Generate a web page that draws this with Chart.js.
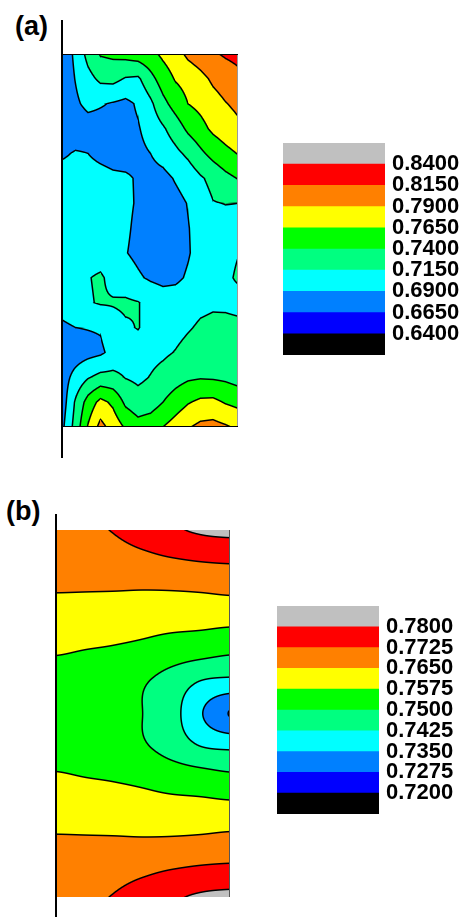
<!DOCTYPE html>
<html>
<head>
<meta charset="utf-8">
<script src="https://cdn.jsdelivr.net/npm/chart.js@4.4.1/dist/chart.umd.min.js"></script>
<style>
  html, body { margin: 0; padding: 0; background: #fff; }
  body { width: 460px; height: 917px; overflow: hidden; position: relative;
         font-family: "Liberation Sans", Arial, sans-serif; }
  .panel-label { position: absolute; font-weight: bold; font-size: 27px; line-height: 27px; color: #000; }
  .axis-line { position: absolute; background: #000; width: 2px; }
  canvas { position: absolute; }
</style>
</head>
<body>
<div class="panel-label" style="left:15px; top:13px;">(a)</div>
<div class="axis-line" style="left:61px; top:20px; height:438px;"></div>
<canvas id="mapA" width="175" height="373" style="left:63px; top:54px;"></canvas>
<canvas id="keyA" width="190" height="212" style="left:283px; top:143px;"></canvas>

<div class="panel-label" style="left:6px; top:498px;">(b)</div>
<div class="axis-line" style="left:55px; top:514px; height:403px;"></div>
<canvas id="mapB" width="173" height="367" style="left:57px; top:530px;"></canvas>
<canvas id="keyB" width="190" height="208" style="left:277px; top:606px;"></canvas>

<script>
// Colour bands, lowest to highest
const bandColors = ['#000000', '#0000FF', '#0080FF', '#00FFFF', '#00FF80',
                    '#00FF00', '#FFFF00', '#FF8000', '#FF0000', '#C0C0C0'];

// Contour levels (band boundaries) of each map
const levelsA = [0.6400, 0.6650, 0.6900, 0.7150, 0.7400, 0.7650, 0.7900, 0.8150, 0.8400];
const levelsB = [0.7200, 0.7275, 0.7350, 0.7425, 0.7500, 0.7575, 0.7650, 0.7725, 0.7800];

// Map (a): nodal values, rows top to bottom, columns left to right
const fieldA = [
  [0.675, 0.695, 0.723, 0.742, 0.745, 0.748, 0.752, 0.758, 0.770, 0.780, 0.795, 0.803, 0.812, 0.818, 0.822],
  [0.675, 0.691, 0.707, 0.720, 0.722, 0.713, 0.711, 0.732, 0.752, 0.767, 0.774, 0.783, 0.794, 0.801, 0.808],
  [0.677, 0.686, 0.696, 0.692, 0.688, 0.684, 0.693, 0.710, 0.733, 0.750, 0.765, 0.772, 0.781, 0.789, 0.795],
  [0.675, 0.676, 0.679, 0.680, 0.681, 0.683, 0.688, 0.700, 0.712, 0.727, 0.745, 0.757, 0.770, 0.778, 0.785],
  [0.687, 0.692, 0.690, 0.685, 0.682, 0.681, 0.684, 0.690, 0.699, 0.709, 0.720, 0.735, 0.748, 0.758, 0.766],
  [0.700, 0.700, 0.698, 0.697, 0.694, 0.693, 0.688, 0.682, 0.683, 0.692, 0.700, 0.712, 0.722, 0.733, 0.741],
  [0.702, 0.703, 0.702, 0.700, 0.698, 0.694, 0.688, 0.681, 0.679, 0.683, 0.691, 0.703, 0.714, 0.7155, 0.715],
  [0.703, 0.704, 0.703, 0.701, 0.698, 0.693, 0.686, 0.679, 0.677, 0.680, 0.689, 0.698, 0.704, 0.708, 0.710],
  [0.703, 0.705, 0.706, 0.705, 0.700, 0.691, 0.685, 0.678, 0.676, 0.679, 0.688, 0.699, 0.706, 0.711, 0.7145],
  [0.703, 0.706, 0.714, 0.718, 0.708, 0.700, 0.693, 0.687, 0.683, 0.685, 0.693, 0.701, 0.707, 0.712, 0.717],
  [0.700, 0.705, 0.713, 0.717, 0.717, 0.719, 0.716, 0.708, 0.703, 0.703, 0.706, 0.710, 0.712, 0.711, 0.709],
  [0.686, 0.690, 0.691, 0.692, 0.705, 0.712, 0.716, 0.708, 0.706, 0.708, 0.713, 0.718, 0.720, 0.721, 0.720],
  [0.676, 0.678, 0.682, 0.686, 0.697, 0.702, 0.705, 0.708, 0.711, 0.716, 0.722, 0.727, 0.730, 0.731, 0.732],
  [0.680, 0.698, 0.713, 0.722, 0.722, 0.714, 0.710, 0.716, 0.723, 0.730, 0.736, 0.738, 0.737, 0.735, 0.730],
  [0.680, 0.718, 0.750, 0.772, 0.760, 0.735, 0.725, 0.728, 0.740, 0.752, 0.763, 0.770, 0.771, 0.763, 0.758],
  [0.687, 0.725, 0.767, 0.798, 0.780, 0.762, 0.750, 0.755, 0.765, 0.776, 0.788, 0.796, 0.798, 0.793, 0.786]
];

// Map (b): nodal values, rows top to bottom, columns left to right
const fieldB = [
  [0.7710, 0.7718, 0.7728, 0.7755, 0.7790, 0.7808, 0.7815],
  [0.7685, 0.7690, 0.7695, 0.7705, 0.7718, 0.7728, 0.7733],
  [0.7652, 0.7651, 0.7650, 0.7648, 0.7649, 0.7653, 0.7660],
  [0.7612, 0.7610, 0.7605, 0.7600, 0.7596, 0.7593, 0.7588],
  [0.7578, 0.7572, 0.7566, 0.7555, 0.7535, 0.7522, 0.7508],
  [0.7552, 0.7545, 0.7530, 0.7505, 0.7465, 0.7418, 0.7403],
  [0.7543, 0.7535, 0.7518, 0.7499, 0.7450, 0.7355, 0.7272],
  [0.7552, 0.7545, 0.7530, 0.7505, 0.7465, 0.7418, 0.7403],
  [0.7578, 0.7572, 0.7566, 0.7555, 0.7535, 0.7522, 0.7508],
  [0.7612, 0.7610, 0.7605, 0.7600, 0.7596, 0.7593, 0.7588],
  [0.7652, 0.7651, 0.7650, 0.7648, 0.7649, 0.7653, 0.7660],
  [0.7685, 0.7690, 0.7695, 0.7705, 0.7718, 0.7728, 0.7733],
  [0.7710, 0.7718, 0.7728, 0.7755, 0.7790, 0.7808, 0.7815]
];

function hexToRgb(hex) {
  const n = parseInt(hex.slice(1), 16);
  return [(n >> 16) & 255, (n >> 8) & 255, n & 255];
}
const bandRgb = bandColors.map(hexToRgb);

// grid nodes as scatter points {x: column, y: row, v: value}
function gridPoints(field) {
  const out = [];
  field.forEach((row, j) => row.forEach((v, i) => out.push({ x: i, y: j, v: v })));
  return out;
}

// Catmull-Rom weights for smooth interpolation
function catmull(p0, p1, p2, p3, t) {
  return p1 + 0.5 * t * (p2 - p0 + t * (2 * p0 - 5 * p1 + 4 * p2 - p3 + t * (3 * (p1 - p2) + p3 - p0)));
}

// Filled contour bands with black isolines, evaluated per pixel through the chart scales
const contourFill = {
  id: 'contourFill',
  beforeDatasetsDraw(chart, args, opts) {
    const xs = chart.scales.x, ys = chart.scales.y;
    const pts = chart.data.datasets[0].data;
    const nx = Math.round(xs.max) + 1, ny = Math.round(ys.max) + 1;
    const g = [];
    for (let j = 0; j < ny; j++) g.push(new Array(nx).fill(0));
    pts.forEach(p => { g[p.y][p.x] = p.v; });
    const at = (j, i) => g[Math.min(Math.max(j, 0), ny - 1)][Math.min(Math.max(i, 0), nx - 1)];

    const linear = (xv, yv) => {
      xv = Math.min(Math.max(xv, 0), nx - 1);
      yv = Math.min(Math.max(yv, 0), ny - 1);
      const i = Math.min(Math.floor(xv), nx - 2), j = Math.min(Math.floor(yv), ny - 2);
      const tx = xv - i, ty = yv - j;
      return g[j][i] * (1 - tx) * (1 - ty) + g[j][i + 1] * tx * (1 - ty) +
             g[j + 1][i] * (1 - tx) * ty + g[j + 1][i + 1] * tx * ty;
    };
    const smooth = (xv, yv) => {
      xv = Math.min(Math.max(xv, 0), nx - 1);
      yv = Math.min(Math.max(yv, 0), ny - 1);
      const i = Math.min(Math.floor(xv), nx - 2), j = Math.min(Math.floor(yv), ny - 2);
      const tx = xv - i, ty = yv - j;
      const r = [];
      for (let m = -1; m <= 2; m++) {
        r.push(catmull(at(j + m, i - 1), at(j + m, i), at(j + m, i + 1), at(j + m, i + 2), tx));
      }
      return catmull(r[0], r[1], r[2], r[3], ty);
    };
    const f = opts.smooth ? smooth : linear;

    const levels = opts.levels;
    const area = chart.chartArea;
    const w = Math.round(area.right - area.left), h = Math.round(area.bottom - area.top);
    const xc = [], xl = [], xr = [], yc = [], yt = [], yb = [];
    for (let px = 0; px < w; px++) {
      xc.push(xs.getValueForPixel(area.left + px + 0.5));
      xl.push(xs.getValueForPixel(area.left + px));
      xr.push(xs.getValueForPixel(area.left + px + 1));
    }
    for (let py = 0; py < h; py++) {
      yc.push(ys.getValueForPixel(area.top + py + 0.5));
      yt.push(ys.getValueForPixel(area.top + py));
      yb.push(ys.getValueForPixel(area.top + py + 1));
    }
    const img = chart.ctx.createImageData(w, h);
    const d = img.data;
    const lw = opts.lineWidth || 1.4;
    for (let py = 0; py < h; py++) {
      for (let px = 0; px < w; px++) {
        const v = f(xc[px], yc[py]);
        let k = 0;
        while (k < levels.length && v >= levels[k]) k++;
        const gx = f(xr[px], yc[py]) - f(xl[px], yc[py]);
        const gy = f(xc[px], yb[py]) - f(xc[px], yt[py]);
        const grad = Math.hypot(gx, gy);
        let dist = Infinity;
        if (grad > 1e-9) {
          if (k > 0) dist = Math.min(dist, Math.abs(v - levels[k - 1]) / grad);
          if (k < levels.length) dist = Math.min(dist, Math.abs(levels[k] - v) / grad);
        }
        const a = Math.min(Math.max(lw / 2 + 0.5 - dist, 0), 1);
        const c = bandRgb[k];
        const o = (py * w + px) * 4;
        d[o] = c[0] * (1 - a);
        d[o + 1] = c[1] * (1 - a);
        d[o + 2] = c[2] * (1 - a);
        d[o + 3] = 255;
      }
    }
    chart.ctx.putImageData(img, Math.round(area.left), Math.round(area.top));
  }
};

// Frame lines along the map edges
const mapFrame = {
  id: 'mapFrame',
  afterDatasetsDraw(chart, args, opts) {
    const { left, right, top, bottom } = chart.chartArea;
    const ctx = chart.ctx;
    ctx.save();
    ctx.lineWidth = 1;
    if (opts.right) {
      ctx.strokeStyle = opts.right;
      ctx.beginPath(); ctx.moveTo(right - 0.5, top); ctx.lineTo(right - 0.5, bottom); ctx.stroke();
    }
    if (opts.top) {
      ctx.strokeStyle = opts.top;
      ctx.beginPath(); ctx.moveTo(left, top + 0.5); ctx.lineTo(right, top + 0.5); ctx.stroke();
    }
    if (opts.bottom) {
      ctx.strokeStyle = opts.bottom;
      ctx.beginPath(); ctx.moveTo(left, bottom - 0.5); ctx.lineTo(right, bottom - 0.5); ctx.stroke();
    }
    ctx.restore();
  }
};

function mapChart(id, field, levels, smooth, frame) {
  return new Chart(document.getElementById(id), {
    type: 'scatter',
    data: { datasets: [{ data: gridPoints(field), pointRadius: 0, pointHoverRadius: 0 }] },
    options: {
      responsive: false, devicePixelRatio: 1, animation: false, events: [],
      layout: { padding: 0 },
      plugins: {
        legend: { display: false }, tooltip: { enabled: false },
        contourFill: { levels: levels, smooth: smooth, lineWidth: 1.5 },
        mapFrame: frame
      },
      scales: {
        x: { type: 'linear', min: 0, max: field[0].length - 1, display: false },
        y: { type: 'linear', min: 0, max: field.length - 1, reverse: true, display: false }
      }
    },
    plugins: [contourFill, mapFrame]
  });
}

// Colour key: one stacked bar of ten bands, level values at the band boundaries
function keyChart(id, levels) {
  return new Chart(document.getElementById(id), {
    type: 'bar',
    data: {
      labels: [''],
      datasets: bandColors.map(c => ({
        data: [1], backgroundColor: c, borderWidth: 0,
        barPercentage: 1, categoryPercentage: 1
      }))
    },
    options: {
      responsive: false, devicePixelRatio: 1, animation: false, events: [],
      layout: { padding: 0 },
      plugins: { legend: { display: false }, tooltip: { enabled: false } },
      scales: {
        x: { stacked: true, display: false },
        y: {
          stacked: true, position: 'right', min: 0, max: bandColors.length,
          grid: { display: false, drawTicks: false },
          border: { display: false },
          afterFit(scale) { scale.width = 88; scale.paddingTop = 0; scale.paddingBottom = 0; },
          ticks: {
            stepSize: 1, autoSkip: false, padding: 7, color: '#000',
            font: { family: 'Liberation Sans', weight: 'bold', size: 22 },
            callback: v => (v >= 1 && v <= levels.length) ? levels[v - 1].toFixed(4) : null
          }
        }
      }
    }
  });
}

mapChart('mapA', fieldA, levelsA, false, { right: '#9a9a9a', top: '#000', bottom: '#000' });
keyChart('keyA', levelsA);
mapChart('mapB', fieldB, levelsB, true, { right: '#555' });
keyChart('keyB', levelsB);
</script>
</body>
</html>
